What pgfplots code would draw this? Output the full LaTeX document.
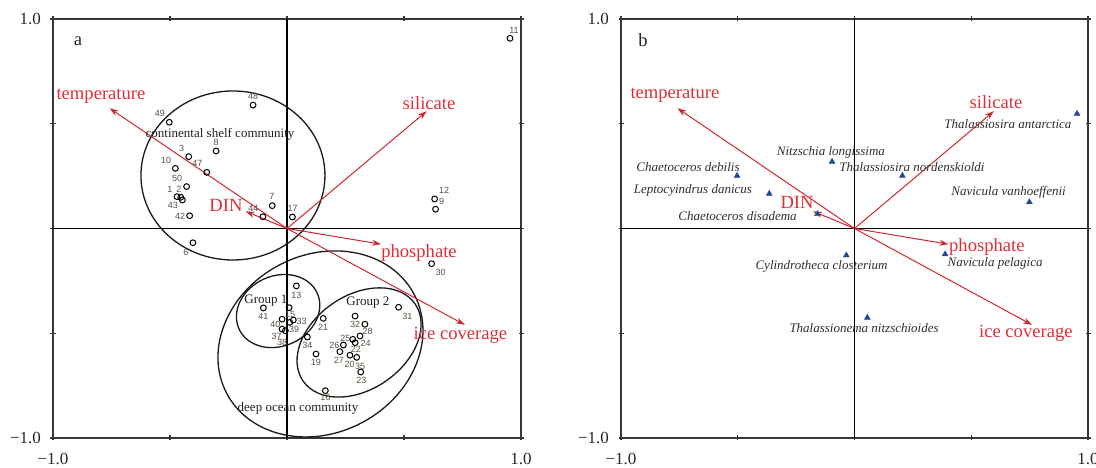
\documentclass[border=0pt]{standalone}
\usepackage{fontspec}
\setmainfont{Liberation Serif}
\newfontfamily\numfont{Liberation Sans}
\usepackage{pgfplots}
\pgfplotsset{compat=1.18}
\usetikzlibrary{arrows.meta}
\definecolor{redA}{RGB}{205,40,46}
\definecolor{redT}{RGB}{220,48,56}
\definecolor{blueT}{RGB}{32,72,150}
\definecolor{numc}{RGB}{92,78,64}
\definecolor{axc}{RGB}{55,55,55}
\newcommand\redfs{\fontsize{18.6}{18.6}\selectfont}
\newcommand\midt{\fontsize{13}{13}\selectfont}
\pgfplotsset{rda/.style={
  scale only axis, height=419pt,
  xmin=-1,xmax=1,ymin=-1,ymax=1,
  axis line style={axc, line width=1.5pt},
  xtick={-1,-0.5,0,0.5,1}, ytick={-1,-0.5,0,0.5,1},
  xticklabels={−1.0,,,,1.0}, yticklabels={−1.0,,,,1.0},
  tick align=center, major tick length=5pt,
  tick style={axc, line width=1.2pt},
  ticklabel style={font=\fontsize{17}{17}\selectfont, text=black!85},
  xticklabel style={yshift=-9pt},
  yticklabel style={xshift=-6pt},
  clip=false,
 },
 arr/.style={redA, line width=1pt, -{Stealth[length=9pt,width=6pt]}},
 lab/.style={only marks, mark=none, nodes near coords, point meta=explicit symbolic,
   nodes near coords align=center, every node near coord/.append style={anchor=center, inner sep=0pt}},
}
\begin{document}
\begin{tikzpicture}
\path[use as bounding box] (0pt,0pt) rectangle (1096pt,468pt);
% ---------------- panel a ----------------
\begin{axis}[rda, at={(53pt,30pt)}, anchor=south west, width=468pt]
\addplot[black, line width=1.2pt] coordinates {(-1,0) (1,0)};
\addplot[black, line width=1.2pt] coordinates {(0,-1) (0,1)};
% ellipses
\draw[line width=1.3pt, black!90] (axis cs:-0.231,0.253) ellipse [x radius=92pt, y radius=84.5pt];
\draw[line width=1.3pt, black!90, rotate around={25:(axis cs:-0.038,-0.394)}] (axis cs:-0.038,-0.394) ellipse [x radius=43pt, y radius=35pt];
\draw[line width=1.3pt, black!90, rotate around={34.5:(axis cs:0.308,-0.544)}] (axis cs:0.308,-0.544) ellipse [x radius=68pt, y radius=47pt];
\draw[line width=1.3pt, black!90, rotate around={28:(axis cs:0.143,-0.551)}] (axis cs:0.143,-0.551) ellipse [x radius=106pt, y radius=89pt];
% environmental arrows
\addplot[arr] coordinates {(0,0) (-0.758,0.574)};
\addplot[arr] coordinates {(0,0) (0.597,0.560)};
\addplot[arr] coordinates {(0,0) (-0.177,0.082)};
\addplot[arr] coordinates {(0,0) (0.402,-0.075)};
\addplot[arr] coordinates {(0,0) (0.760,-0.460)};
% samples
\addplot[only marks, mark=o, mark size=2.9pt, mark options={line width=1pt, fill=white, draw=black}] coordinates {
(-0.470,0.152) (-0.454,0.149) (-0.447,0.136) (-0.420,0.343) (-0.402,-0.068)
(-0.063,0.109) (-0.303,0.370) (0.635,0.092) (-0.477,0.287) (0.953,0.908)
(0.631,0.141) (0.040,-0.274) (0.009,-0.378) (0.164,-0.774) (0.023,0.055)
(0.124,-0.599) (0.269,-0.605) (0.155,-0.429) (0.291,-0.545) (0.315,-0.685)
(0.312,-0.513) (0.281,-0.529) (0.241,-0.556) (0.226,-0.588) (0.333,-0.457)
(0.618,-0.168) (0.477,-0.376) (0.291,-0.418) (0.027,-0.437) (0.087,-0.518)
(0.298,-0.615) (-0.021,-0.480) (-0.007,-0.488) (0.012,-0.448) (-0.021,-0.433)
(-0.101,-0.379) (-0.416,0.061) (-0.103,0.056) (-0.343,0.268) (-0.145,0.589)
(-0.503,0.507) (-0.429,0.200)};
% sample numbers
\addplot[lab, every node near coord/.append style={font=\numfont\fontsize{9}{9}\selectfont, text=numc}] table[meta=t] {
x y t
-0.145 0.632 48
-0.543 0.547 49
-0.450 0.383 3
-0.303 0.413 8
-0.517 0.327 10
-0.383 0.311 47
-0.470 0.241 50
-0.500 0.187 1
-0.462 0.187 2
-0.488 0.112 43
-0.457 0.060 42
-0.432 -0.112 6
-0.065 0.152 7
-0.144 0.096 44
0.024 0.096 17
0.671 0.180 12
0.661 0.131 9
0.657 -0.209 30
0.970 0.944 11
0.040 -0.317 13
-0.101 -0.421 41
0.013 -0.408 15
-0.050 -0.457 40
0.063 -0.445 33
0.030 -0.481 39
-0.044 -0.513 37
-0.021 -0.545 38
0.087 -0.559 34
0.154 -0.472 21
0.123 -0.641 19
0.164 -0.808 16
0.291 -0.456 32
0.345 -0.489 28
0.514 -0.421 31
0.249 -0.523 25
0.336 -0.548 24
0.202 -0.558 26
0.294 -0.577 22
0.222 -0.628 27
0.268 -0.647 20
0.312 -0.656 35
0.318 -0.723 23
};
% text labels
\node[text=redT, font=\redfs] at (axis cs:-0.795,0.629) {temperature};
\node[text=redT, font=\redfs] at (axis cs:0.607,0.600) {silicate};
\node[text=redT, font=\redfs] at (axis cs:-0.261,0.112) {DIN};
\node[text=redT, font=\redfs] at (axis cs:0.564,-0.116) {phosphate};
\node[text=redT, font=\redfs] at (axis cs:0.741,-0.510) {ice coverage};
\node[font=\midt, text=black!88] at (axis cs:-0.286,0.451) {continental shelf community};
\node[font=\midt, text=black!88] at (axis cs:-0.090,-0.345) {Group 1};
\node[font=\midt, text=black!88] at (axis cs:0.346,-0.354) {Group 2};
\node[font=\midt, text=black!88] at (axis cs:0.047,-0.858) {deep ocean community};
\node[font=\redfs, text=black!85] at (axis cs:-0.893,0.895) {a};
\end{axis}
% ---------------- panel b ----------------
\begin{axis}[rda, at={(621pt,30pt)}, anchor=south west, width=467pt]
\addplot[black, line width=1.2pt] coordinates {(-1,0) (1,0)};
\addplot[black, line width=1.2pt] coordinates {(0,-1) (0,1)};
\addplot[arr] coordinates {(0,0) (-0.758,0.574)};
\addplot[arr] coordinates {(0,0) (0.597,0.560)};
\addplot[arr] coordinates {(0,0) (-0.177,0.082)};
\addplot[arr] coordinates {(0,0) (0.402,-0.075)};
\addplot[arr] coordinates {(0,0) (0.760,-0.460)};
\addplot[only marks, mark=triangle*, mark size=3.4pt, mark options={fill=blueT, draw=blueT}] coordinates {
(0.953,0.548) (0.205,0.252) (0.749,0.126) (0.388,-0.123) (-0.096,0.319)
(-0.503,0.252) (-0.365,0.166) (-0.159,0.069) (-0.035,-0.128) (0.055,-0.426)};
\addplot[lab, every node near coord/.append style={font=\midt\itshape, text=black!82}] table[meta=t, col sep=comma] {
x,y,t
0.657,0.499,Thalassiosira antarctica
0.246,0.294,Thalassiosira nordenskioldi
0.660,0.171,Navicula vanhoeffenii
0.602,-0.166,Navicula pelagica
-0.101,0.364,Nitzschia longissima
-0.713,0.295,Chaetoceros debilis
-0.692,0.182,Leptocyindrus danicus
-0.501,0.060,Chaetoceros disadema
-0.141,-0.179,Cylindrotheca closterium
0.041,-0.474,Thalassionema nitzschioides
};
\node[text=redT, font=\redfs] at (axis cs:-0.769,0.637) {temperature};
\node[text=redT, font=\redfs] at (axis cs:0.606,0.605) {silicate};
\node[text=redT, font=\redfs] at (axis cs:-0.246,0.123) {DIN};
\node[text=redT, font=\redfs] at (axis cs:0.567,-0.087) {phosphate};
\node[text=redT, font=\redfs] at (axis cs:0.734,-0.500) {ice coverage};
\node[font=\redfs, text=black!85] at (axis cs:-0.906,0.900) {b};
\end{axis}
\end{tikzpicture}
\end{document}
